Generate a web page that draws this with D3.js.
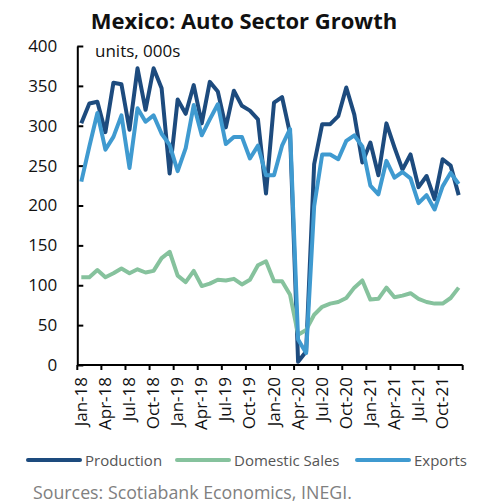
<!DOCTYPE html>
<html>
<head>
<meta charset="utf-8">
<script src="https://d3js.org/d3.v7.min.js"></script>
<style>
  body { margin: 0; background: #fff; }
  text { font-family: "Open Sans", "Noto Sans", sans-serif; }
</style>
</head>
<body>
<svg id="chart" width="484" height="504"></svg>
<script>
    // month / year parts of the category labels (Jan-18 ... Dec-21)
    var monthNames = ["Jan","Feb","Mar","Apr","May","Jun","Jul","Aug","Sep","Oct","Nov","Dec"];
    var yearNames = ["18","19","20","21"];

    // units, 000s
    var production = [303, 328, 330, 292, 354, 352, 295, 372, 320, 372, 347, 240,
                      333, 315, 351, 303, 355, 343, 298, 344, 325, 319, 308, 215,
                      329, 336, 290, 4, 17, 252, 302, 302, 312, 348, 314, 254,
                      279, 238, 303, 273, 245, 264, 223, 237, 208, 258, 250, 213];
    var domesticSales = [110, 110, 119, 110, 115, 121, 115, 120, 116, 118, 134, 142,
                         112, 104, 118, 99, 102, 107, 106, 108, 101, 107, 125, 130,
                         105, 105, 88, 38, 44, 63, 73, 77, 79, 84, 97, 106,
                         82, 83, 97, 85, 87, 90, 83, 79, 77, 77, 84, 97];
    var exports = [230, 274, 316, 270, 286, 313, 247, 322, 305, 313, 290, 276,
                   243, 272, 326, 288, 308, 327, 277, 286, 286, 259, 275, 238,
                   238, 275, 296, 32, 15, 199, 264, 264, 258, 281, 288, 274,
                   225, 214, 256, 235, 242, 234, 203, 213, 195, 224, 241, 227];
    var yTicks = [0, 50, 100, 150, 200, 250, 300, 350, 400];

    var categories = [];
    yearNames.forEach(function(y) {
        monthNames.forEach(function(m) { categories.push(m + "-" + y); });
    });

    var series = [
        { name: "Production", values: production, color: "#1d4b7e" },
        { name: "Domestic Sales", values: domesticSales, color: "#86c29d" },
        { name: "Exports", values: exports, color: "#3f9ad0" }
    ];

    var svg = d3.select("#chart");

    var xScale = d3.scaleBand()
        .domain(categories)
        .range([77.3, 462.7])
        .padding(0);
    var yScale = d3.scaleLinear()
        .domain([0, 400])
        .range([365, 46]);

    // title + unit note
    svg.append("text")
        .attr("x", 244)
        .attr("y", 29)
        .attr("text-anchor", "middle")
        .style("font-size", "22px")
        .style("font-weight", "bold")
        .attr("fill", "#111")
        .text("Mexico: Auto Sector Growth");

    svg.append("text")
        .attr("x", 95)
        .attr("y", 57)
        .style("font-size", "17px")
        .attr("fill", "#111")
        .text("units, 000s");

    // y axis - ticks point into the plot
    var yAxis = svg.append("g")
        .attr("transform", "translate(77.3,0)")
        .call(d3.axisRight(yScale).tickValues(yTicks).tickSize(6).tickSizeOuter(0));
    yAxis.select(".domain").attr("stroke", "#000").attr("stroke-width", 2);
    yAxis.selectAll(".tick line").attr("stroke", "#000").attr("stroke-width", 2);
    yAxis.selectAll(".tick text")
        .attr("x", -20)
        .attr("text-anchor", "end")
        .style("font-size", "17px")
        .attr("fill", "#111");

    // x axis - tick every quarter on the band edges
    var tickCats = categories.filter(function(d, i) { return i % 3 === 0; });
    var xAxisG = svg.append("g").attr("transform", "translate(0,365)");
    xAxisG.append("line")
        .attr("x1", xScale.range()[0])
        .attr("x2", xScale.range()[1])
        .attr("stroke", "#000")
        .attr("stroke-width", 2);
    var tickPos = tickCats.map(function(c) { return xScale(c); }).concat([xScale.range()[1]]);
    xAxisG.selectAll(".xtick")
        .data(tickPos)
        .enter().append("line")
        .attr("class", "xtick")
        .attr("x1", function(d) { return d; })
        .attr("x2", function(d) { return d; })
        .attr("y1", 0)
        .attr("y2", 5)
        .attr("stroke", "#000")
        .attr("stroke-width", 2);
    xAxisG.selectAll(".xlabel")
        .data(tickCats)
        .enter().append("text")
        .attr("class", "xlabel")
        .attr("transform", function(d) {
            return "translate(" + (xScale(d) + xScale.bandwidth() / 2 + 5.5) + ",12) rotate(-90)";
        })
        .attr("text-anchor", "end")
        .style("font-size", "17px")
        .attr("fill", "#111")
        .text(function(d) { return d; });

    // lines
    var line = d3.line()
        .x(function(d, i) { return xScale(categories[i]) + xScale.bandwidth() / 2; })
        .y(function(d) { return yScale(d); });

    svg.selectAll(".series")
        .data(series)
        .enter().append("path")
        .attr("class", "series")
        .attr("fill", "none")
        .attr("stroke", function(d) { return d.color; })
        .attr("stroke-width", 4)
        .attr("stroke-linejoin", "round")
        .attr("d", function(d) { return line(d.values); });

    // legend
    var legendX = [28, 177, 357];
    var legend = svg.selectAll(".legend")
        .data(series)
        .enter().append("g")
        .attr("class", "legend")
        .attr("transform", function(d, i) { return "translate(" + legendX[i] + ",460)"; });
    legend.append("line")
        .attr("x1", 0).attr("x2", 52)
        .attr("stroke", function(d) { return d.color; })
        .attr("stroke-width", 4)
        .attr("stroke-linecap", "round");
    legend.append("text")
        .attr("x", 57)
        .attr("y", 5.5)
        .style("font-size", "15px")
        .attr("fill", "#555")
        .text(function(d) { return d.name; });

    svg.append("text")
        .attr("x", 33)
        .attr("y", 499)
        .style("font-size", "17.8px")
        .attr("fill", "#808080")
        .text("Sources: Scotiabank Economics, INEGI.");
</script>
</body>
</html>
